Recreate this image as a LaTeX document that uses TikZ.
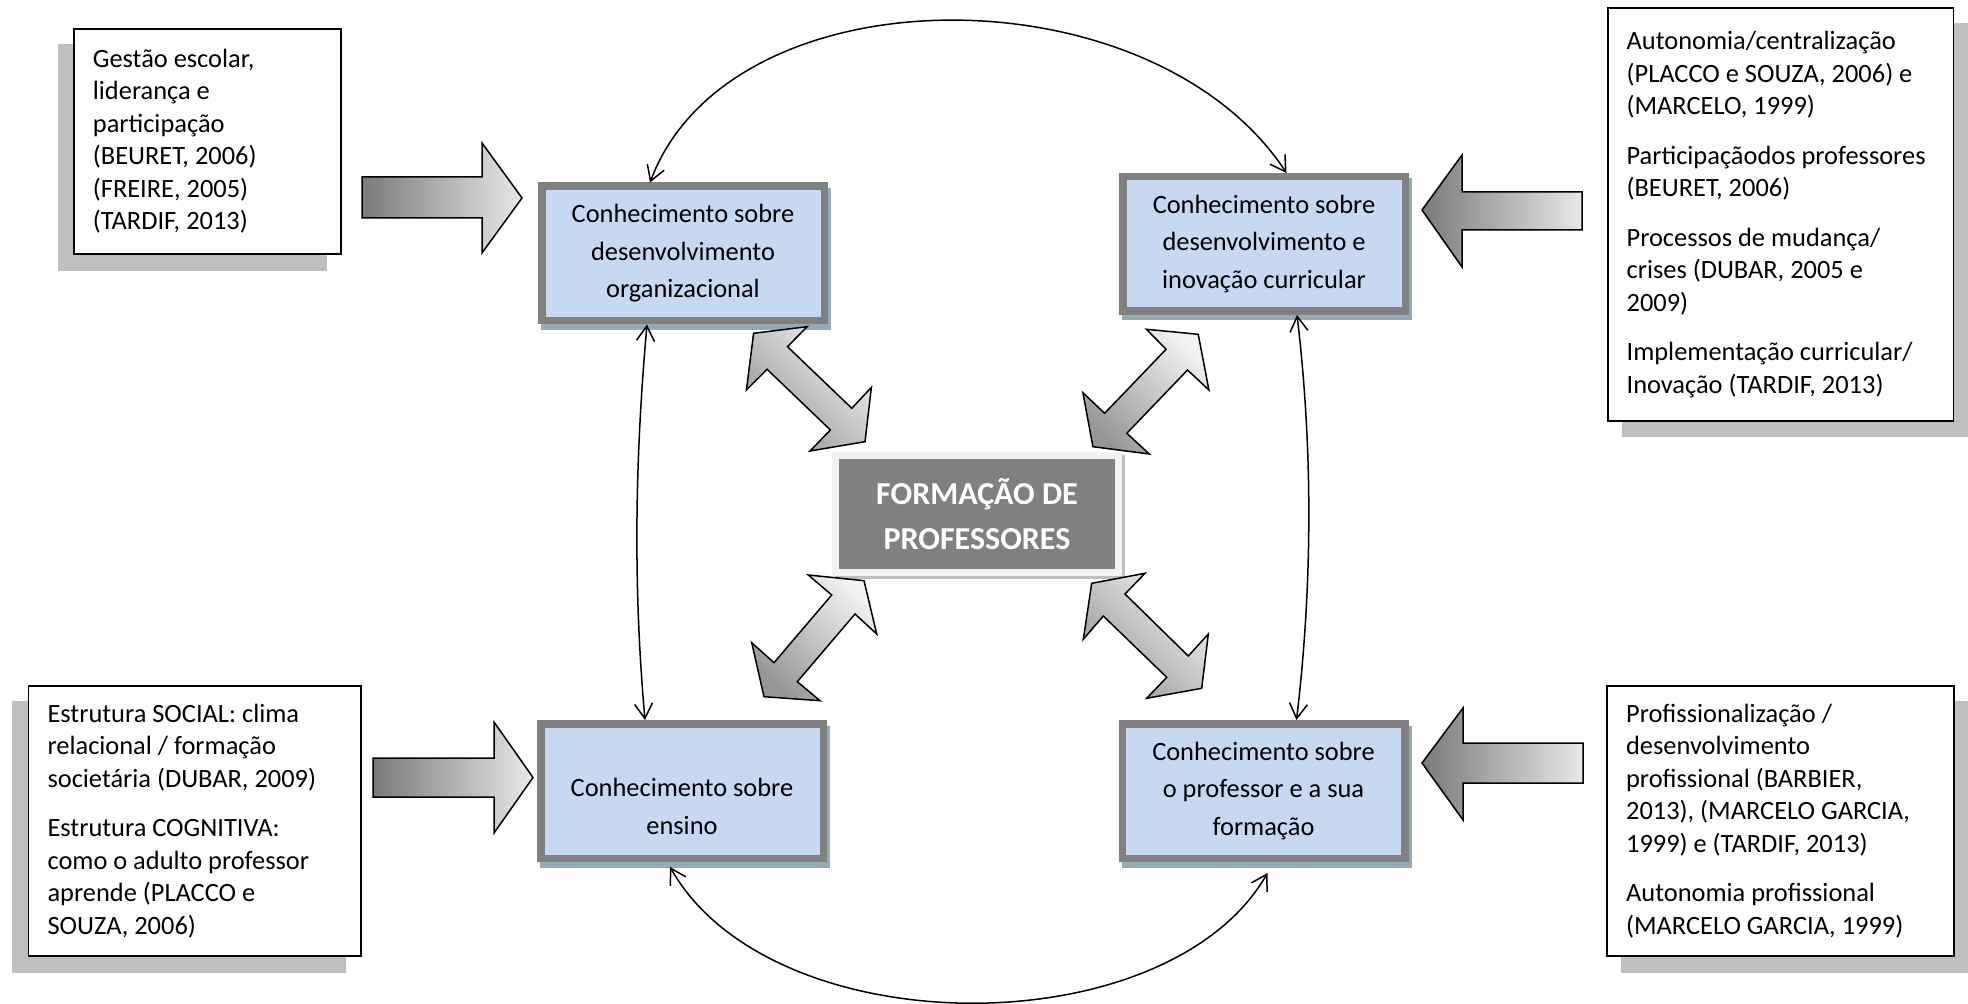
\documentclass[tikz,border=0pt]{standalone}
\usepackage{fontspec}
\setmainfont{Carlito}
\usetikzlibrary{arrows.meta,calc,backgrounds}
\definecolor{kblue}{RGB}{198,217,241}
\definecolor{kgray}{RGB}{128,128,128}
\definecolor{kshadow}{RGB}{146,172,182}
\definecolor{tshadow}{RGB}{191,191,191}
\definecolor{cframe}{RGB}{242,242,242}
\definecolor{arrdark}{RGB}{122,122,122}
\definecolor{arrlight}{RGB}{232,232,232}
\definecolor{dlight}{RGB}{242,242,242}
\definecolor{ddark}{RGB}{150,150,150}
\begin{document}
\begin{tikzpicture}[x=0.5pt,y=-0.5pt,
 kbox/.style={draw=kgray, line width=3.75pt, fill=kblue, minimum width=141.25pt, minimum height=67.25pt, inner sep=0pt, align=flush center, font=\fontsize{13.2}{18.75}\selectfont},
 tbox/.style={draw=black, line width=0.9pt, fill=white, align=flush left, inner xsep=9.5pt, inner ysep=0pt, font=\fontsize{13.2}{16.25}\selectfont},
 cbox/.style={draw=cframe, line width=3.5pt, fill=kgray, minimum width=141.5pt, minimum height=58.5pt, inner sep=0pt, align=flush center, text=white, font=\fontsize{16}{22.5}\selectfont\bfseries},
 link/.style={line width=0.75pt, {Straight Barb[length=7.5pt,width=9pt]}-{Straight Barb[length=7.5pt,width=9pt]}},
 bigarrow/.style={draw=black, line width=0.75pt, left color=arrdark, right color=arrlight},
 diagarrow/.style={draw=black, line width=0.75pt, top color=dlight, bottom color=ddark, shading angle=-45}
]
\useasboundingbox (0,0) rectangle (1968,1004);

% knowledge boxes
\node[kbox] (K1) at (683,253.5) {Conhecimento sobre\\desenvolvimento\\organizacional};
\node[kbox] (K2) at (1264,244) {Conhecimento sobre\\desenvolvimento e\\inovação curricular};
\node[kbox] (K3) at (682,791) {\mbox{}\\[6pt]Conhecimento sobre\\ensino};
\node[kbox] (K4) at (1263.5,791) {Conhecimento sobre\\o professor e a sua\\formação};

% centre
\node[cbox] (C) at (977,514) {FORMAÇÃO DE\\PROFESSORES};

% text boxes
\node[tbox, text width=114.6pt, minimum height=112.6pt] (T1) at (207.5,141.4)
 {Gestão escolar,\\liderança e\\participação\\(BEURET, 2006)\\(FREIRE, 2005)\\(TARDIF, 2013)};
\node[tbox, text width=153.9pt, minimum height=206.3pt] (T2) at (1780.5,214.5)
 {Autonomia/centralização\\(PLACCO e SOUZA, 2006) e\\(MARCELO, 1999)\\[8.5pt]
  Participaçãodos professores\\(BEURET, 2006)\\[8.5pt]
  Processos de mudança/\\crises (DUBAR, 2005 e\\2009)\\[8.5pt]
  Implementação curricular/\\Inovação (TARDIF, 2013)\par\vspace{8pt}};
\node[tbox, text width=147.1pt, minimum height=135pt] (T3) at (194.65,820.85)
 {Estrutura SOCIAL: clima\\relacional / formação\\societária (DUBAR, 2009)\\[8.5pt]
  Estrutura COGNITIVA:\\como o adulto professor\\aprende (PLACCO e\\SOUZA, 2006)};
\node[tbox, text width=154.3pt, minimum height=135pt] (T4) at (1780.4,820.85)
 {Profissionalização /\\desenvolvimento\\profissional (BARBIER,\\2013), (MARCELO GARCIA,\\1999) e (TARDIF, 2013)\\[8.5pt]
  Autonomia profissional\\(MARCELO GARCIA, 1999)};

% shadows
\begin{scope}[on background layer]
 \fill[white] (0,0) rectangle (1968,1004);
 \foreach \n in {K1,K2,K3,K4}
  \fill[kshadow] ($(\n.north west)+(3,5.5)$) rectangle ($(\n.south east)+(3,5.5)$);
 \fill[tshadow] ($(C.north west)+(3,3)$) rectangle ($(C.south east)+(3,3)$);
 \fill[tshadow] ($(T1.north west)+(-15.5,16)$) rectangle ($(T1.south east)+(-15.5,16)$);
 \fill[tshadow] ($(T3.north west)+(-15.5,16)$) rectangle ($(T3.south east)+(-15.5,16)$);
 \fill[tshadow] ($(T2.north west)+(15,15.5)$) rectangle ($(T2.south east)+(15,15.5)$);
 \fill[tshadow] ($(T4.north west)+(15,16)$) rectangle ($(T4.south east)+(15,16)$);
\end{scope}

% block arrows
\path[bigarrow] (362,177) -- (482,177) -- (482,143) -- (522,198) -- (482,253) -- (482,218) -- (362,218) -- cycle;
\path[bigarrow] (373,758) -- (494,758) -- (494,722) -- (533,777.5) -- (494,833) -- (494,797) -- (373,797) -- cycle;
\path[bigarrow] (1422,210) -- (1462,155) -- (1462,192) -- (1582,192) -- (1582,230) -- (1462,230) -- (1462,267) -- cycle;
\path[bigarrow] (1422,763) -- (1463,708) -- (1463,743) -- (1583,743) -- (1583,783) -- (1463,783) -- (1463,820) -- cycle;

% diagonal double arrows
\path[diagarrow] (753.6,333.3) -- (807.1,326.7) -- (787.5,346.7) -- (851.8,408.3) -- (871.4,387.3) -- (865,441.7) -- (810,451) -- (830.4,430) -- (767.1,369.3) -- (746.4,390) -- cycle;
\path[diagarrow] (1198.2,334.3) -- (1208.9,390) -- (1187.5,370) -- (1126.8,433.3) -- (1149.3,454) -- (1092.9,446.7) -- (1082.9,392.7) -- (1104.6,413.3) -- (1166.1,349.3) -- (1146.4,329.3) -- cycle;
\path[diagarrow] (864,580.7) -- (876.7,634) -- (855,614) -- (797.3,681.7) -- (820,700.7) -- (764,696.7) -- (751.7,642.7) -- (774,662.7) -- (831.7,595) -- (808.3,575) -- cycle;
\path[diagarrow] (1091.7,583.3) -- (1145,573.3) -- (1125,594) -- (1188.3,656) -- (1208.3,634) -- (1201.7,688.3) -- (1146.7,698.3) -- (1166.7,677.3) -- (1103.3,616) -- (1083.3,639.3) -- cycle;

% curved links
\draw[link] ($(K1.north)+(-33,0)$) .. controls +(80,-214) and +(-135,-205) .. ($(K2.north)+(22.5,0)$);
\draw[link] ($(K3.south)+(-12,5)$) .. controls +(102,180) and +(-100,174) .. ($(K4.south)+(4,11)$);
\draw[link] ($(K1.south)+(-36,0)$) .. controls +(-12,135) and +(-12,-135) .. ($(K3.north)+(-37,0)$);
\draw[link] ($(K2.south)+(33,0)$) .. controls +(16,135) and +(16,-135) .. ($(K4.north)+(33,0)$);
\end{tikzpicture}
\end{document}
